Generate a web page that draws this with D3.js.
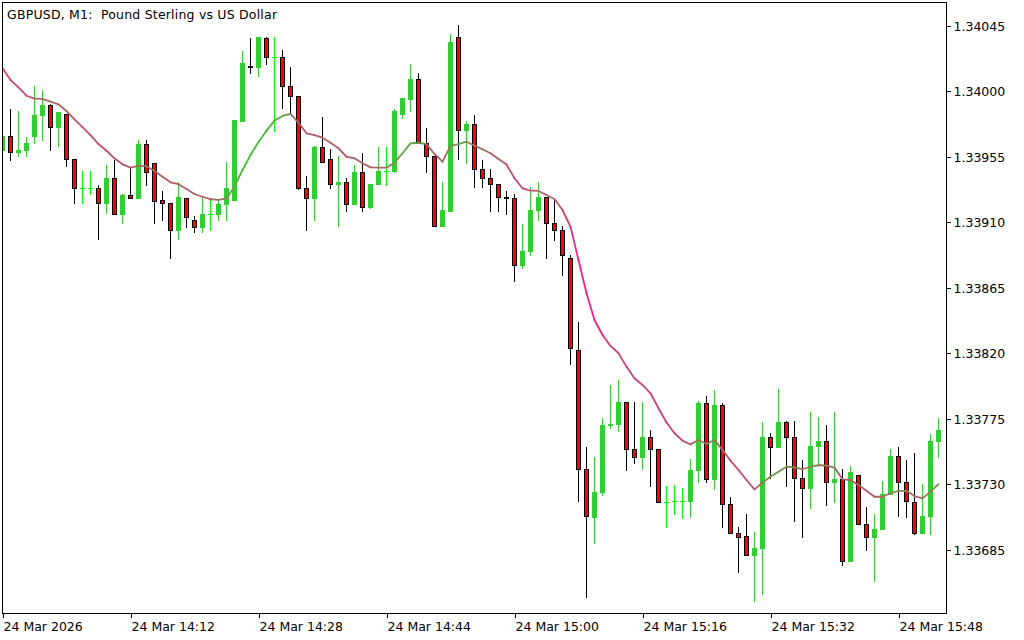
<!DOCTYPE html>
<html>
<head>
<meta charset="utf-8">
<script src="https://cdn.jsdelivr.net/npm/d3@7"></script>
<style>
html, body { margin: 0; padding: 0; background: #fff; }
svg { display: block; font-family: "DejaVu Sans", sans-serif; }
</style>
</head>
<body>
<script>
// GBPUSD M1 bars, 13:56 .. 15:53
var openP = [1.33959,1.33969,1.33958,1.33959,1.33969,1.33983,1.33990,1.33975,1.33984,1.33953,
  1.33933,1.33933,1.33933,1.33923,1.33940,1.33915,1.33928,1.33926,1.33963,1.33950,
  1.33925,1.33923,1.33904,1.33926,1.33911,1.33906,1.33915,1.33915,1.33922,1.33925,
  1.33979,1.34017,1.34016,1.34036,1.34023,1.34023,1.34003,1.33996,1.33933,1.33926,
  1.33961,1.33953,1.33936,1.33937,1.33922,1.33944,1.33920,1.33936,1.33945,1.33945,
  1.33984,1.33994,1.34008,1.33964,1.33955,1.33907,1.33917,1.34037,1.33973,1.33977,
  1.33946,1.33940,1.33936,1.33927,1.33926,1.33880,1.33890,1.33918,1.33927,1.33909,
  1.33904,1.33885,1.33822,1.33740,1.33707,1.33724,1.33770,1.33771,1.33786,1.33754,
  1.33748,1.33762,1.33754,1.33717,1.33718,1.33718,1.33718,1.33739,1.33785,1.33733,
  1.33784,1.33716,1.33696,1.33694,1.33681,1.33686,1.33762,1.33755,1.33772,1.33762,
  1.33734,1.33727,1.33756,1.33759,1.33731,1.33733,1.33677,1.33736,1.33702,1.33693,
  1.33699,1.33723,1.33749,1.33731,1.33717,1.33696,1.33708,1.33759];
var highP = [1.33970,1.33987,1.33986,1.33968,1.34003,1.34000,1.33991,1.33985,1.33984,1.33953,
  1.33945,1.33945,1.33935,1.33949,1.33952,1.33929,1.33947,1.33966,1.33966,1.33950,
  1.33931,1.33923,1.33937,1.33926,1.33914,1.33926,1.33926,1.33925,1.33951,1.33980,
  1.34027,1.34036,1.34037,1.34037,1.34037,1.34028,1.34016,1.33996,1.33941,1.33962,
  1.33982,1.33960,1.33955,1.33940,1.33949,1.33957,1.33936,1.33961,1.33961,1.33987,
  1.33995,1.34018,1.34012,1.33974,1.33955,1.33937,1.34039,1.34045,1.33979,1.33983,
  1.33952,1.33946,1.33936,1.33931,1.33929,1.33908,1.33934,1.33937,1.33927,1.33925,
  1.33907,1.33887,1.33841,1.33755,1.33748,1.33775,1.33798,1.33801,1.33786,1.33786,
  1.33786,1.33767,1.33754,1.33728,1.33729,1.33727,1.33747,1.33787,1.33790,1.33794,
  1.33785,1.33721,1.33700,1.33709,1.33697,1.33772,1.33765,1.33795,1.33773,1.33773,
  1.33746,1.33779,1.33776,1.33770,1.33779,1.33740,1.33742,1.33736,1.33714,1.33709,
  1.33732,1.33754,1.33755,1.33746,1.33751,1.33730,1.33764,1.33775];
var lowP = [1.33958,1.33952,1.33955,1.33955,1.33964,1.33966,1.33959,1.33962,1.33948,1.33923,
  1.33923,1.33929,1.33898,1.33916,1.33915,1.33909,1.33926,1.33926,1.33935,1.33909,
  1.33911,1.33885,1.33898,1.33906,1.33903,1.33903,1.33904,1.33911,1.33911,1.33925,
  1.33979,1.34012,1.34010,1.34018,1.33972,1.33988,1.33984,1.33932,1.33904,1.33911,
  1.33951,1.33933,1.33907,1.33917,1.33922,1.33917,1.33919,1.33936,1.33935,1.33944,
  1.33981,1.33986,1.33964,1.33944,1.33907,1.33907,1.33917,1.33953,1.33950,1.33934,
  1.33934,1.33917,1.33917,1.33915,1.33869,1.33878,1.33887,1.33911,1.33885,1.33897,
  1.33873,1.33812,1.33718,1.33652,1.33689,1.33722,1.33768,1.33766,1.33739,1.33744,
  1.33740,1.33728,1.33717,1.33700,1.33709,1.33706,1.33707,1.33731,1.33731,1.33726,
  1.33700,1.33696,1.33669,1.33681,1.33649,1.33654,1.33734,1.33755,1.33728,1.33704,
  1.33693,1.33713,1.33742,1.33715,1.33717,1.33674,1.33677,1.33702,1.33684,1.33663,
  1.33699,1.33723,1.33708,1.33707,1.33695,1.33696,1.33695,1.33748];
var closeP = [1.33969,1.33958,1.33959,1.33964,1.33983,1.33990,1.33975,1.33985,1.33953,1.33933,
  1.33933,1.33933,1.33923,1.33940,1.33915,1.33928,1.33926,1.33963,1.33944,1.33924,
  1.33923,1.33904,1.33927,1.33913,1.33906,1.33915,1.33915,1.33922,1.33933,1.33980,
  1.34019,1.34016,1.34037,1.34023,1.34023,1.34003,1.33996,1.33933,1.33926,1.33961,
  1.33951,1.33936,1.33937,1.33922,1.33944,1.33920,1.33936,1.33945,1.33945,1.33986,
  1.33995,1.34008,1.33964,1.33955,1.33907,1.33918,1.34033,1.33973,1.33977,1.33946,
  1.33940,1.33936,1.33927,1.33926,1.33880,1.33890,1.33918,1.33927,1.33909,1.33904,
  1.33887,1.33823,1.33740,1.33708,1.33724,1.33770,1.33771,1.33786,1.33754,1.33748,
  1.33762,1.33754,1.33717,1.33717,1.33718,1.33718,1.33739,1.33785,1.33733,1.33784,
  1.33716,1.33696,1.33693,1.33681,1.33686,1.33762,1.33755,1.33772,1.33762,1.33734,
  1.33727,1.33756,1.33759,1.33731,1.33733,1.33677,1.33738,1.33702,1.33693,1.33699,
  1.33723,1.33749,1.33731,1.33718,1.33696,1.33708,1.33759,1.33767];
// moving average at every bar
var maP = [1.340155,1.340072,1.340022,1.339964,1.339944,1.339942,1.339923,1.339905,1.339859,1.339802,
  1.339749,1.339694,1.339632,1.339586,1.339534,1.339493,1.339470,1.339483,1.339479,1.339447,
  1.339408,1.339369,1.339356,1.339323,1.339289,1.339270,1.339253,1.339248,1.339259,1.339339,
  1.339454,1.339557,1.339646,1.339724,1.339793,1.339825,1.339839,1.339779,1.339706,1.339694,
  1.339676,1.339641,1.339603,1.339545,1.339534,1.339500,1.339472,1.339470,1.339470,1.339504,
  1.339569,1.339637,1.339641,1.339632,1.339564,1.339511,1.339619,1.339632,1.339648,1.339621,
  1.339596,1.339569,1.339529,1.339492,1.339397,1.339328,1.339312,1.339310,1.339282,1.339255,
  1.339179,1.339064,1.338836,1.338607,1.338423,1.338320,1.338245,1.338195,1.338103,1.338023,
  1.337977,1.337920,1.337817,1.337719,1.337645,1.337594,1.337569,1.337599,1.337571,1.337599,
  1.337530,1.337457,1.337393,1.337324,1.337260,1.337306,1.337347,1.337381,1.337415,1.337411,
  1.337398,1.337415,1.337427,1.337422,1.337409,1.337329,1.337324,1.337290,1.337250,1.337209,
  1.337209,1.337233,1.337250,1.337250,1.337214,1.337198,1.337244,1.337296];

var priceTicks = [1.34045,1.34000,1.33955,1.33910,1.33865,1.33820,1.33775,1.33730,1.33685];
var timeTickIdx = [0,16,32,48,64,80,96,112];
var timeTickLabels = ["24 Mar 2026","24 Mar 14:12","24 Mar 14:28","24 Mar 14:44",
  "24 Mar 15:00","24 Mar 15:16","24 Mar 15:32","24 Mar 15:48"];
var title = "GBPUSD, M1:  Pound Sterling vs US Dollar";

var width = 1024, height = 640;
var plotL = 2.5, plotT = 2.5, plotR = 946.5, plotB = 613.5;

var bars = openP.map(function(o, i) {
  return {i: i, o: o, h: highP[i], l: lowP[i], c: closeP[i]};
});

var x = d3.scaleLinear().domain([0, 117]).range([2.5, 938.5]);
var y = d3.scaleLinear().domain([1.33685, 1.34045]).range([549, 25]);

var svg = d3.select("body").append("svg")
  .attr("width", width)
  .attr("height", height);

svg.append("defs").append("clipPath").attr("id", "plot")
  .append("rect")
  .attr("x", plotL + 0.5).attr("y", plotT + 0.5)
  .attr("width", plotR - plotL - 1).attr("height", plotB - plotT - 1);

var g = svg.append("g").attr("clip-path", "url(#plot)");

//__candles__//
var bullC = "#32cd32", flatC = "#00ff00";
var candle = g.selectAll("g.bar").data(bars).enter().append("g")
  .attr("class", "bar")
  .attr("shape-rendering", "crispEdges");

candle.append("line")
  .attr("x1", function(d) { return x(d.i); })
  .attr("x2", function(d) { return x(d.i); })
  .attr("y1", function(d) { return Math.round(y(d.h)); })
  .attr("y2", function(d) { return Math.round(y(d.l)) + 1; })
  .attr("stroke", function(d) {
    if (d.c < d.o) return "#000";
    return d.c === d.o ? flatC : bullC;
  })
  .attr("stroke-width", 1);

candle.each(function(d) {
  var sel = d3.select(this),
      top = Math.round(y(Math.max(d.o, d.c))),
      bot = Math.round(y(Math.min(d.o, d.c))),
      cx = x(d.i);
  if (d.c === d.o) {
    // flat bar: just a dash
    sel.append("rect")
      .attr("x", cx - 2.5).attr("y", top)
      .attr("width", 5).attr("height", 1)
      .attr("fill", flatC);
  } else if (d.c > d.o) {
    sel.append("rect")
      .attr("x", cx - 2.5).attr("y", top)
      .attr("width", 5).attr("height", Math.max(1, bot - top + 1))
      .attr("fill", bullC);
  } else {
    sel.append("rect")
      .attr("x", cx - 2).attr("y", top + 0.5)
      .attr("width", 4).attr("height", Math.max(0, bot - top))
      .attr("fill", "#ff0000")
      .attr("stroke", "#000")
      .attr("stroke-width", 1);
  }
});

//__moving average, colour follows its recent slope (pips per bar over 3 bars)__//
var maColor = d3.scaleLinear()
  .domain([-1, 0, 1])
  .range(["#ff1493", "#9a7458", "#32cd32"])
  .interpolate(d3.interpolateRgb)
  .clamp(true);
for (var i = 1; i < maP.length; i++) {
  var back = Math.max(0, i - 3);
  var slope = (maP[i] - maP[back]) * 1e5 / (i - back);
  var v = slope < 0 ? Math.tanh(slope / 14) : Math.tanh(slope / 8);
  g.append("line")
    .attr("x1", x(i - 1)).attr("y1", y(maP[i - 1]))
    .attr("x2", x(i)).attr("y2", y(maP[i]))
    .attr("stroke", maColor(v))
    .attr("stroke-width", 1.8)
    .attr("stroke-linecap", "round");
}

//__frame__//
svg.append("rect")
  .attr("x", plotL).attr("y", plotT)
  .attr("width", plotR - plotL).attr("height", plotB - plotT)
  .attr("fill", "none")
  .attr("stroke", "#000")
  .attr("shape-rendering", "crispEdges");

//__price axis__//
var yAxis = d3.axisRight(y)
  .tickValues(priceTicks)
  .tickFormat(d3.format(".5f"))
  .tickSize(4)
  .tickSizeOuter(0)
  .tickPadding(3);

var ya = svg.append("g")
  .attr("transform", "translate(" + plotR + ",0.5)")
  .call(yAxis);
ya.select(".domain").remove();
ya.selectAll("line").attr("stroke", "#000").attr("shape-rendering", "crispEdges");
ya.selectAll("text")
  .attr("fill", "#000")
  .attr("dy", "0.38em")
  .style("font-size", "12.5px")
  .style("font-family", "\"DejaVu Sans\", sans-serif");

//__time axis__//
var xAxis = d3.axisBottom(x)
  .tickValues(timeTickIdx)
  .tickFormat(function(d, k) { return timeTickLabels[k]; })
  .tickSize(4)
  .tickSizeOuter(0);

var xa = svg.append("g")
  .attr("transform", "translate(0," + plotB + ")")
  .call(xAxis);
xa.select(".domain").remove();
xa.selectAll("line").attr("stroke", "#000").attr("shape-rendering", "crispEdges");
xa.selectAll("text")
  .attr("fill", "#000")
  .attr("text-anchor", "start")
  .attr("x", 0.5)
  .attr("y", 17)
  .attr("dy", null)
  .style("font-size", "12.5px")
  .style("font-family", "\"DejaVu Sans\", sans-serif");

//__title__//
svg.append("text")
  .attr("x", 7)
  .attr("y", 19)
  .style("white-space", "pre")
  .style("font-size", "12.5px")
  .style("letter-spacing", "0.2px")
  .attr("fill", "#000")
  .text(title);
</script>
</body>
</html>
